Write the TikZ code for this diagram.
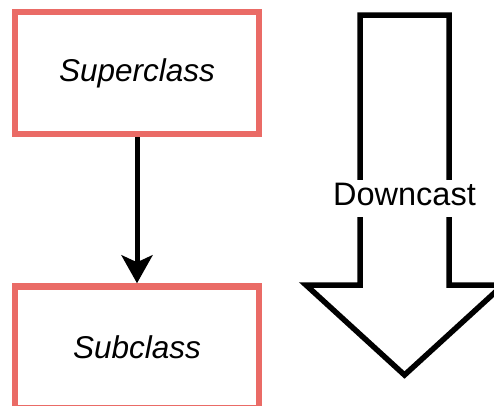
\documentclass[tikz,border=0pt]{standalone}
\usepackage{fontspec}
\setmainfont{Liberation Sans}
\usetikzlibrary{arrows.meta}
\definecolor{salmon}{RGB}{234,107,102}
\begin{document}
\begin{tikzpicture}[x=1pt,y=-1pt,
  classbox/.style={draw=salmon, line width=6.5pt, fill=white, minimum width=244pt, minimum height=122pt, inner sep=0pt, font=\fontsize{31.5}{36}\selectfont\itshape},
  link/.style={line width=5pt, -{Stealth[length=28pt,width=31pt,inset=7pt]}},
  bigarrow/.style={draw=black, line width=5.5pt, line join=miter, fill=white},
  arrowlabel/.style={fill=white, inner xsep=1pt, inner ysep=0pt, text height=25pt, text depth=12pt, font=\fontsize{32.5}{36}\selectfont}
]
\useasboundingbox (0,0) rectangle (494,405);
\clip (0,0) rectangle (494,405);
\fill[white] (0,0) rectangle (494,405);
\node[classbox] (super) at (137,73) {Superclass};
\node[classbox] (sub) at (137,347.5) {Subclass};
\draw[link] (super.south) -- (sub.north);
\draw[bigarrow] (360,15) -- (449,15) -- (449,285) -- (503,285) -- (404.5,375) -- (306,285) -- (360,285) -- cycle;
\node[arrowlabel, anchor=base] (down) at (404.5,205) {Downcast};
\end{tikzpicture}
\end{document}
